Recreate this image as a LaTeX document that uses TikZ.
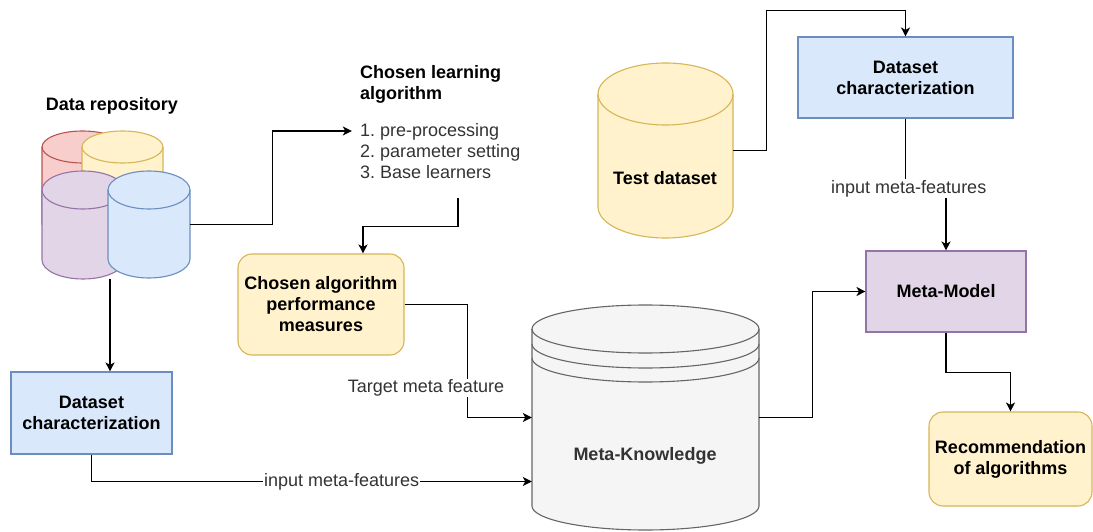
\documentclass[tikz,border=0pt]{standalone}
\usepackage{fontspec}
\setmainfont{Liberation Sans}
\usetikzlibrary{arrows.meta}
\frenchspacing

\definecolor{redF}{HTML}{F8CECC}    \definecolor{redS}{HTML}{B85450}
\definecolor{yellowF}{HTML}{FFF2CC} \definecolor{yellowS}{HTML}{D6B656}
\definecolor{purpleF}{HTML}{E1D5E7} \definecolor{purpleS}{HTML}{9673A6}
\definecolor{blueF}{HTML}{DAE8FC}   \definecolor{blueS}{HTML}{6C8EBF}
\definecolor{grayF}{HTML}{F5F5F5}   \definecolor{grayS}{HTML}{666666}
\definecolor{txtgray}{HTML}{333333}

% \drum{name}{left x}{right x}{top y}{bottom y}{ellipse ry}{fill}{stroke}
% draws a database cylinder (y measured downwards) and an empty node over it
\newcommand\drum[8]{%
  \pgfmathsetmacro\drumrx{(#3-#2)/2}%
  \pgfmathsetmacro\drumyt{-(#4+#6)}%
  \pgfmathsetmacro\drumyb{-(#5-#6)}%
  \pgfmathsetmacro\drumw{#3-#2}%
  \pgfmathsetmacro\drumh{#5-#4}%
  \pgfmathsetmacro\drumcx{(#2+#3)/2}%
  \pgfmathsetmacro\drumcy{-(#4+#5)/2}%
  \filldraw[fill=#7,draw=#8,line width=1.1pt]
    (#2,\drumyt) -- (#2,\drumyb)
    arc[start angle=180,end angle=360,x radius=\drumrx,y radius=#6]
    -- (#3,\drumyt)
    arc[start angle=0,end angle=180,x radius=\drumrx,y radius=#6] -- cycle;
  \draw[#8,line width=1.1pt] (#2,\drumyt)
    arc[start angle=180,end angle=360,x radius=\drumrx,y radius=#6];
  \node[inner sep=0,minimum width=\drumw pt,minimum height=\drumh pt] (#1) at (\drumcx,\drumcy) {};
}

\begin{document}
\begin{tikzpicture}[x=1pt,y=1pt,
  every node/.style={font=\fontsize{18}{21}\selectfont},
  bold/.style={font=\fontsize{18}{21}\selectfont\bfseries},
  box/.style={draw, line width=1.1pt, align=center, inner sep=0,
    font=\fontsize{18}{21}\selectfont\bfseries},
  conn/.style={line width=1.3pt, -{Stealth[length=9pt,width=9pt,inset=2.5pt]}},
  edgelabel/.style={fill=white, inner sep=1pt, text=txtgray}]

\useasboundingbox (0,0) rectangle (1093,-532);

% data repository: four overlapping cylinders
\drum{repored}{42}{123}{131}{240}{16}{redF}{redS}
\drum{repoyellow}{82}{163}{131}{240}{16}{yellowF}{yellowS}
\drum{repopurple}{42}{124}{171}{279}{19}{purpleF}{purpleS}
\drum{repoblue}{108}{190}{171}{278}{19}{blueF}{blueS}
\node[inner sep=0, minimum width=136pt, minimum height=148pt] (repo) at (110,-205) {};
\node[bold] (repolabel) at (112,-106) {Data repository};

% test dataset
\drum{testdb}{598}{733}{63}{238}{31}{yellowF}{yellowS}
\node[bold] (testlabel) at (665,-178) {Test dataset};

% meta-knowledge store
\drum{mk}{532}{759}{305}{530}{24}{grayF}{grayS}
\draw[grayS,line width=1.1pt] (532,-344) arc[start angle=180,end angle=360,x radius=113.5,y radius=24];
\draw[grayS,line width=1.1pt] (532,-358) arc[start angle=180,end angle=360,x radius=113.5,y radius=24];
\node[bold, text=txtgray] (mklabel) at (645,-456) {Meta-Knowledge};

% boxes
\node[box, fill=blueF, draw=blueS, minimum width=161pt, minimum height=82pt]
  (dcleft) at (91.5,-413) {Dataset\\characterization};
\node[box, fill=yellowF, draw=yellowS, rounded corners=14pt, minimum width=166pt, minimum height=101pt]
  (perf) at (321,-304.5) {Chosen algorithm\\performance\\measures};
\node[box, fill=blueF, draw=blueS, minimum width=215pt, minimum height=81pt]
  (dcright) at (905.5,-77.5) {Dataset\\characterization};
\node[box, fill=purpleF, draw=purpleS, minimum width=160pt, minimum height=81pt]
  (metamodel) at (946,-291.5) {Meta-Model};
\node[box, fill=yellowF, draw=yellowS, rounded corners=14pt, minimum width=163pt, minimum height=94pt]
  (recommend) at (1010.5,-459) {Recommendation\\of algorithms};

% chosen learning algorithm block
\node[inner sep=0, minimum width=212pt, minimum height=140pt] (alg) at (458,-128) {};
\node[anchor=west, align=left, inner sep=0, bold] (algtitle) at (360,-84) {Chosen learning\\algorithm};
\node[anchor=west, align=left, inner sep=0, text=txtgray] (alglist) at (360,-151)
  {1. pre-processing\\2. parameter setting\\3. Base learners};
\coordinate (listin) at ([yshift=20pt]alglist.west);

% connectors
\draw[conn] (repoblue.east) -- ++(82,0) |- (listin -| alg.west);
\draw[conn] (alg.south) -- ++(0,-28) -| ([xshift=42pt]perf.north);
\draw[conn] (repo.south) -- (repo.south |- dcleft.north);
\draw[conn] (perf.east) -- ++(63,0) |- (mk.west);
\node[edgelabel] (lbltarget) at (426,-388) {Target meta feature};
\draw[conn] (dcleft.south) |- node[edgelabel, pos=0.784] (lblin1) {input meta-features}
  ([yshift=-64pt]mk.west);
\draw[conn] (testdb.east) -- ++(33,0) -- ++(0,140) -| (dcright.north);
\draw[conn] (dcright.south) -- ++(0,-70) -| node[edgelabel, pos=0.04] (lblin2) {input meta-features}
  (metamodel.north);
\draw[conn] (mk.east) -- ++(53,0) |- (metamodel.west);
\draw[conn] (metamodel.south) -- ++(0,-40) -| (recommend.north);

\end{tikzpicture}
\end{document}
